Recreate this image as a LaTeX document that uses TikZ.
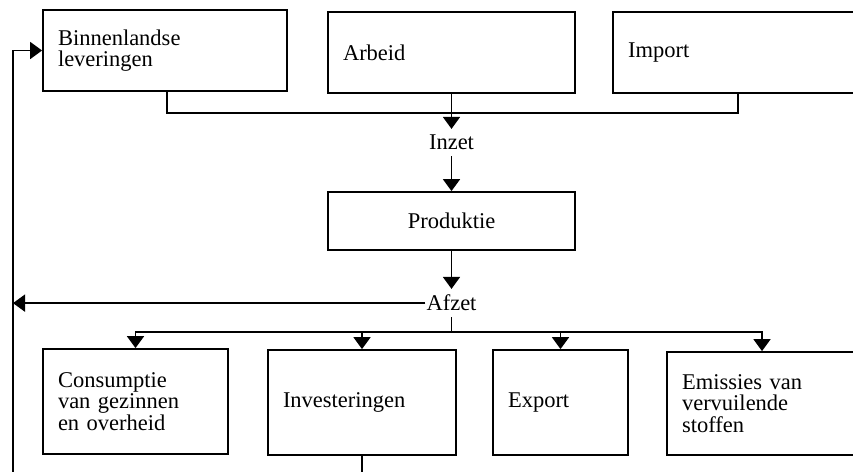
\documentclass[tikz,border=0pt]{standalone}
\usepackage{fontspec}
\setmainfont{Liberation Serif}
\usetikzlibrary{arrows.meta,
                positioning}

\begin{document}
\begin{tikzpicture}[x=1pt, y=-1pt,
    font=\fontsize{22.5}{21.3}\selectfont,
    blok/.style={draw, line width=1.8pt, inner xsep=15pt, inner ysep=0pt, align=left},
    tussen/.style={inner sep=6pt},
    lijn/.style={line width=1.8pt},
    pijl/.style={line width=1.8pt, -{Triangle[width=17pt,length=12pt]}}]
    \clip (0,0) rectangle (853,471);

    % inzet
    \node[blok, text width=214pt, minimum height=81pt] (bin) at (165,50.5) {Binnenlandse\\leveringen};
    \node[blok, text width=217pt, minimum height=81pt] (arb) at (451.5,52.5) {Arbeid};
    \node[blok, text width=237pt, minimum height=81pt] (imp) at (746.5,52.5) {Import};

    \coordinate (bk) at (167,113);
    \coordinate (ik) at (738,113);
    \draw[lijn] (bin.south -| bk) |- (ik) -- (imp.south -| ik);

    \node[tussen, below=35pt of arb] (inzet) {Inzet};
    \draw[pijl] (arb.south) -- (inzet.north);

    \node[blok, align=center, text width=217pt, minimum height=58pt] (prod) at (451.5,221) {Produktie};
    \draw[pijl] (inzet.south) -- (prod.north);

    % afzet
    \node[tussen, inner xsep=1pt, below=38pt of prod] (afzet) {Afzet};
    \draw[pijl] (prod.south) -- (afzet.north);

    \node[blok, text width=155pt, minimum height=105pt] (con) at (135.5,401.5) {Consumptie\\van gezinnen\\en overheid};
    \node[blok, text width=158pt, minimum height=105pt] (inv) at (362,402.5) {Investeringen};
    \node[blok, text width=105pt, minimum height=105pt] (exp) at (560.5,402.5) {Export};
    \node[blok, text width=183pt, minimum height=103pt] (emi) at (773.5,403.5) {Emissies van\\vervuilende\\stoffen};

    \coordinate (verdeel) at (afzet.south |- 0,332);
    \draw[lijn] (afzet.south) -- (verdeel);
    \draw[pijl] (verdeel) -| (con.north);
    \draw[pijl] (verdeel) -| (inv.north);
    \draw[pijl] (verdeel) -| (exp.north);
    \draw[pijl] (verdeel) -| ([xshift=-11.5pt]emi.north);

    % terugkoppeling
    \coordinate (terug) at (13,480);
    \draw[pijl] (terug) |- (bin.west);
    \draw[pijl] (afzet.west) -- (afzet.west -| terug);
    \draw[lijn] (inv.south) -- (inv.south |- terug);
\end{tikzpicture}
\end{document}
